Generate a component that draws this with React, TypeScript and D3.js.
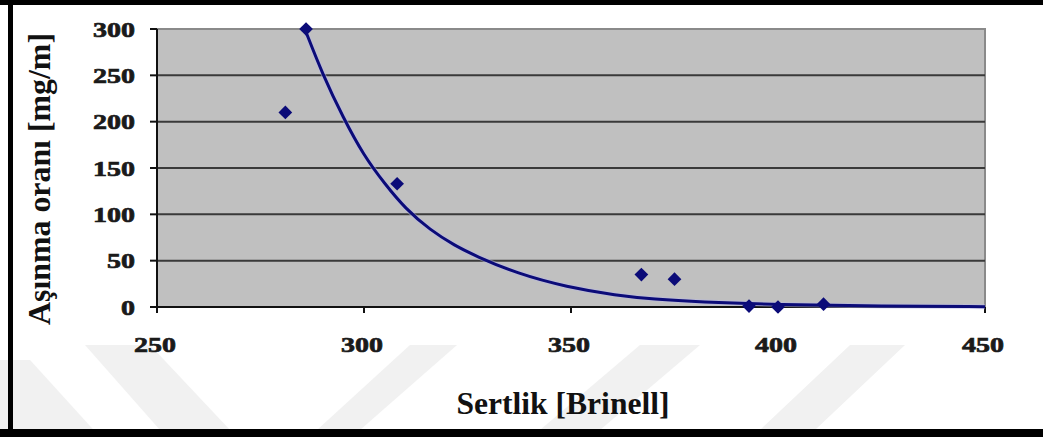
import React from "react";
import * as d3 from "d3";

// measured points (Brinell hardness vs wear rate)
const hardness = [281, 286, 308, 367, 375, 393, 400, 411];
const wearRate = [210, 300, 133, 35, 30, 1, 0, 3];

// exponential trendline
const trendHardness = [285.7, 290, 295, 300, 305, 310, 316, 322, 327, 337, 349, 361, 370, 381, 400, 425, 450];
const trendWear = [300, 251, 204, 163, 133, 106, 83, 66, 55, 36, 21.5, 12.5, 8.5, 5.5, 2.6, 1, 0.4];

const xTicks = [250, 300, 350, 400, 450];
const yTicks = [0, 50, 100, 150, 200, 250, 300];

const xTitle = "Sertlik [Brinell]";
const yTitle = "Aşınma oranı [mg/m]";

const W = 1043;
const H = 437;
const PLOT = { left: 157, right: 985, top: 29, bottom: 307 };

const FONT = "'Liberation Serif', 'Times New Roman', serif";
const NAVY = "#0b0b78";

export default function App() {
  const x = d3.scaleLinear().domain([250, 450]).range([PLOT.left, PLOT.right]);
  const y = d3.scaleLinear().domain([0, 300]).range([PLOT.bottom, PLOT.top]);

  const trendLine = d3
    .line<number>()
    .x((d) => x(d))
    .y((_, i) => y(trendWear[i]))
    .curve(d3.curveBasis)(trendHardness);

  const diamond = d3.symbol().type(d3.symbolDiamond2).size(120)();

  // faint watermark stripes behind everything
  const stripes = [
    [[0, 360], [30, 360], [100, 437], [0, 437]],
    [[85, 345], [150, 345], [230, 430], [160, 430]],
    [[410, 345], [457, 345], [360, 430], [317, 430]],
    [[640, 345], [700, 345], [600, 430], [540, 430]],
    [[850, 345], [905, 345], [815, 430], [760, 430]],
  ];

  return (
    <svg
      width={W}
      height={H}
      style={{ position: "absolute", left: 0, top: 0, background: "#fff" }}
    >
      {stripes.map((s, i) => (
        <polygon key={i} points={s.map((p) => p.join(",")).join(" ")} fill="#f1f1f1" />
      ))}

      {/* frame of the picture */}
      <rect x={0} y={0} width={W} height={5} fill="#000" />
      <rect x={8} y={0} width={5} height={H} fill="#000" />
      <rect x={0} y={429} width={W} height={8} fill="#000" />

      {/* plot area */}
      <rect
        x={PLOT.left}
        y={PLOT.top}
        width={PLOT.right - PLOT.left}
        height={PLOT.bottom - PLOT.top}
        fill="#c0c0c0"
        stroke="#8a8a8a"
        strokeWidth={2}
      />
      {yTicks
        .filter((t) => t > 0 && t < 300)
        .map((t) => (
          <line
            key={t}
            x1={PLOT.left}
            x2={PLOT.right}
            y1={y(t)}
            y2={y(t)}
            stroke="#3a3a3a"
            strokeWidth={2}
          />
        ))}

      {/* axes */}
      <line x1={PLOT.left} x2={PLOT.left} y1={PLOT.top} y2={PLOT.bottom} stroke="#111" strokeWidth={2} />
      <line x1={PLOT.left} x2={PLOT.right} y1={PLOT.bottom} y2={PLOT.bottom} stroke="#111" strokeWidth={2} />
      {yTicks.map((t) => (
        <g key={t}>
          <line x1={PLOT.left - 7} x2={PLOT.left} y1={y(t)} y2={y(t)} stroke="#111" strokeWidth={2} />
          <text
            x={135}
            y={y(t) + 7.5}
            textAnchor="end"
            fontFamily={FONT}
            fontWeight="bold"
            fontSize={22}
            fill="#1a1a1a"
            stroke="#1a1a1a"
            strokeWidth={0.7}
            textLength={String(t).length * 14}
            lengthAdjust="spacingAndGlyphs"
          >
            {t}
          </text>
        </g>
      ))}
      {xTicks.map((t) => (
        <g key={t}>
          <line x1={x(t)} x2={x(t)} y1={PLOT.bottom} y2={PLOT.bottom + 6} stroke="#111" strokeWidth={2} />
          <text
            x={x(t) - 2}
            y={352}
            textAnchor="middle"
            fontFamily={FONT}
            fontWeight="bold"
            fontSize={22}
            fill="#1a1a1a"
            stroke="#1a1a1a"
            strokeWidth={0.7}
            textLength={42}
            lengthAdjust="spacingAndGlyphs"
          >
            {t}
          </text>
        </g>
      ))}

      {/* trendline and points */}
      <path d={trendLine ?? ""} fill="none" stroke="#b8b8e8" strokeWidth={5} strokeOpacity={0.5} />
      <path d={trendLine ?? ""} fill="none" stroke={NAVY} strokeWidth={3} />
      {hardness.map((h, i) => (
        <path key={i} d={diamond ?? ""} transform={`translate(${x(h)},${y(wearRate[i])})`} fill={NAVY} />
      ))}

      {/* titles */}
      <text
        x={563}
        y={414}
        textAnchor="middle"
        fontFamily={FONT}
        fontWeight="bold"
        fontSize={32}
        fill="#111"
        textLength={213}
        lengthAdjust="spacingAndGlyphs"
      >
        {xTitle}
      </text>
      <text
        transform="translate(50,179) rotate(-90)"
        textAnchor="middle"
        fontFamily={FONT}
        fontWeight="bold"
        fontSize={32}
        fill="#111"
        textLength={292}
        lengthAdjust="spacingAndGlyphs"
      >
        {yTitle}
      </text>
    </svg>
  );
}
